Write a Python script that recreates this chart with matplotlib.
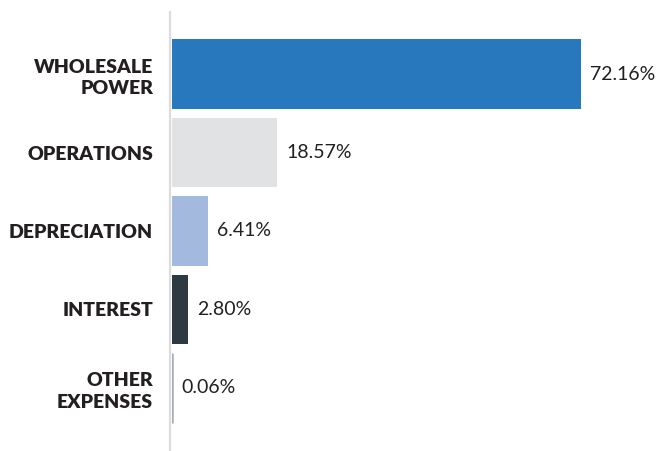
import numpy as np
import matplotlib.pyplot as plt

# expense breakdown
categories = ["WHOLESALE\nPOWER", "OPERATIONS", "DEPRECIATION", "INTEREST", "OTHER\nEXPENSES"]
values = [72.16, 18.57, 6.41, 2.80, 0.06]
labels = ["72.16%", "18.57%", "6.41%", "2.80%", "0.06%"]
colors = ["#2878BD", "#E1E2E4", "#A3B9DD", "#2E3A41", "#A5AEB6"]

fig = plt.figure(figsize=(6.56, 4.51), dpi=100)
ax = fig.add_axes([172 / 656, 1 / 451, 484 / 656, 438 / 451])

# spines first: set_position resets the tick labels
for s in ["top", "right", "bottom"]:
    ax.spines[s].set_visible(False)
ax.spines["left"].set_color("#DCDCDC")
ax.spines["left"].set_linewidth(1.6)
ax.spines["left"].set_position(("outward", 1.5))

y = np.arange(len(values))
bars = ax.barh(y, values, height=0.89, color=colors, linewidth=0)
# the tiny last bar gets a thin edge so it stays visible
bars[-1].set_edgecolor(colors[-1])
bars[-1].set_linewidth(1.8)
ax.set_xlim(0, 484 / 5.668)
ax.set_ylim(len(values) - 1 + 0.79, -0.79)

for yi, v, lab in zip(y, values, labels):
    ax.text(v + 1.6, yi, lab, va="center", ha="left", fontsize=14,
            family="Lato", color="#231F20")

ax.set_yticks(y)
ax.set_yticklabels(categories, fontsize=14, family="Lato", fontweight="heavy",
                   color="#231F20", linespacing=1.3)
ax.tick_params(axis="y", length=0, pad=12)
ax.set_xticks([])

fig.savefig("out.png", dpi=100)
